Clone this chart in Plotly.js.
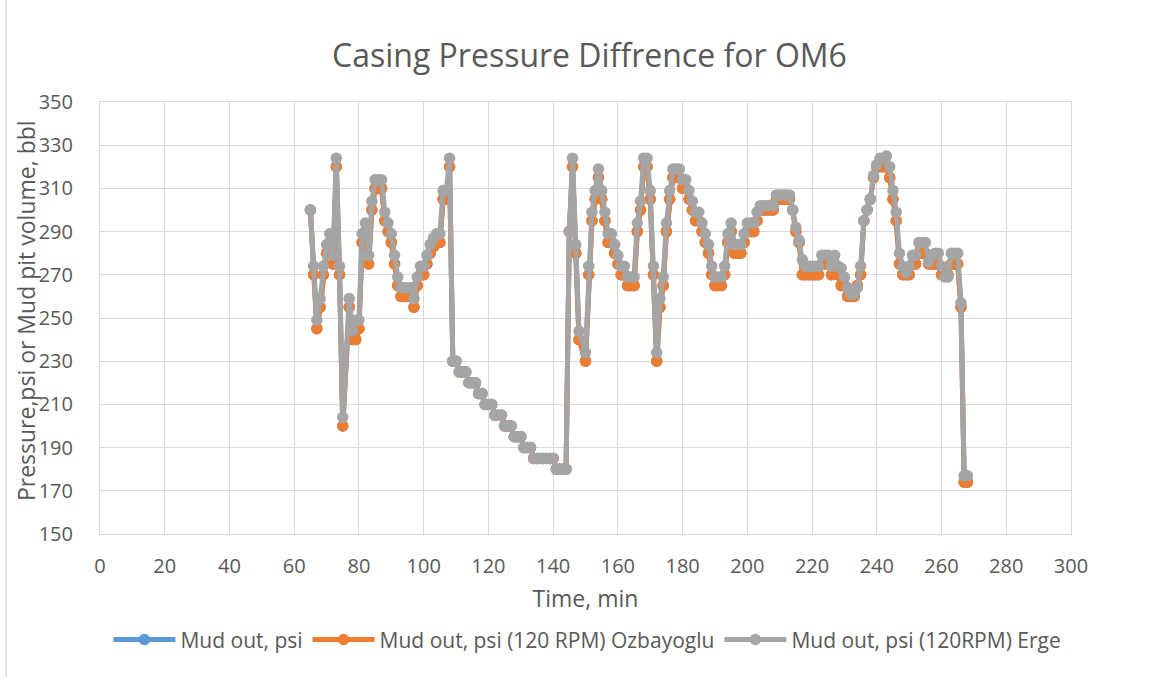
<!DOCTYPE html>
<html>
<head>
<meta charset="utf-8">
<script src="https://cdn.plot.ly/plotly-3.0.1.min.js"></script>
<style>html,body{margin:0;padding:0;background:#fff;}#chart{width:1149px;height:677px;}</style>
</head>
<body>
<div id="chart"></div>
<script>
// Time, min
const timeMin = [65,66,67,68,69,70,71,72,73,74,75,77,78,79,80,81,82,83,84,85,86,87,88,89,90,91,92,93,94,95,96,97,98,99,100,101,102,103,104,105,106,107,108,
109,110,111,112,113,114,115,116,117,118,119,120,121,122,123,124,125,126,127,128,129,130,131,132,133,134,135,136,137,138,139,140,141,142,143,144,
145,146,147,148,150,151,152,153,154,155,156,157,158,159,160,161,162,163,164,165,166,167,168,169,170,171,172,173,174,175,176,177,178,179,180,
181,182,183,184,185,186,187,188,189,190,191,192,193,194,195,196,197,198,199,200,201,202,203,204,205,206,207,208,209,210,211,212,213,214,215,216,
217,218,219,220,221,222,223,224,225,226,227,228,229,230,231,232,233,234,235,236,237,238,239,240,241,242,243,244,245,246,247,248,249,250,251,252,
253,254,255,256,257,258,259,260,261,262,263,264,265,266,267,268];

// Mud out, psi (120 RPM) Ozbayoglu
const ozbayoglu = [300,270,245,255,270,280,285,275,320,270,200,255,240,240,245,285,290,275,300,310,310,310,295,290,285,275,265,260,260,260,260,255,265,270,270,275,280,283,285,285,305,305,320,
230,230,225,225,225,220,220,220,215,215,210,210,210,205,205,205,200,200,200,195,195,195,190,190,190,185,185,185,185,185,185,185,180,180,180,180,
290,320,280,240,230,270,295,305,315,305,295,285,285,280,275,270,270,265,265,265,290,300,320,320,305,270,230,255,265,290,305,315,315,315,310,
310,305,300,295,295,290,285,280,270,265,265,265,270,285,290,280,280,280,285,290,290,290,295,300,300,300,300,300,305,305,305,305,305,300,290,285,
270,270,270,270,270,270,275,275,275,270,275,270,265,265,260,260,260,265,270,295,300,305,315,320,320,320,320,315,305,295,275,270,270,270,275,275,
280,280,280,275,275,275,275,270,270,270,275,275,275,255,174,174];

// Mud out, psi (assumed identical to Ozbayoglu; hidden beneath it)
const mudOut = ozbayoglu.slice();

// Mud out, psi (120RPM) Erge
const erge = [300,274,249,259,274,284,289,279,324,274,204,259,244,249,249,289,294,279,304,314,314,314,299,294,289,279,269,264,264,264,264,259,269,274,274,279,284,287,289,289,309,309,324,
230,230,225,225,225,220,220,220,215,215,210,210,210,205,205,205,200,200,200,195,195,195,190,190,190,185,185,185,185,185,185,185,180,180,180,180,
290,324,284,244,234,274,299,309,319,309,299,289,289,284,279,274,274,269,269,269,294,304,324,324,309,274,234,259,269,294,309,319,319,319,314,
314,309,304,299,299,294,289,284,274,269,269,269,274,289,294,284,284,284,289,294,294,294,299,302,302,302,302,302,307,307,307,307,307,300,292,286,
277,274,274,274,274,274,279,279,279,274,279,274,273,269,264,261,261,264,274,295,300,305,316,321,324,324,325,320,309,299,280,274,271,274,279,279,
285,285,285,276,279,280,280,274,269,269,280,280,280,257,177,177];

const yTitle = 'Pressure,psi or Mud pit volume, bbl';

const series = [
  {name: 'Mud out, psi', y: mudOut, color: '#5B9BD5'},
  {name: 'Mud out, psi (120 RPM) Ozbayoglu', y: ozbayoglu, color: '#ED7D31'},
  {name: 'Mud out, psi (120RPM) Erge', y: erge, color: '#A5A5A5'}
];

const traces = series.map(s => ({
  type: 'scatter', mode: 'lines+markers', name: s.name,
  x: timeMin, y: s.y,
  line: {color: s.color, width: 5},
  marker: {color: s.color, size: 11.5}
}));

const fontFam = 'Open Sans, Noto Sans, sans-serif';
const txt = '#595959';
const grid = '#D9D9D9';
const layout = {
  width: 1149, height: 677,
  margin: {l: 100, r: 78, t: 102, b: 143},
  paper_bgcolor: '#ffffff', plot_bgcolor: '#ffffff',
  font: {family: fontFam, color: txt, size: 20},
  title: {text: 'Casing Pressure Diffrence for OM6', x: 0.513, xanchor: 'center', y: 0.918, yanchor: 'middle',
          font: {family: fontFam, size: 32, color: txt}},
  xaxis: {range: [0, 300], tick0: 0, dtick: 20, showgrid: true, gridcolor: grid, gridwidth: 1,
          zeroline: false, showline: true, linecolor: grid, linewidth: 1, mirror: true,
          ticks: '', ticklabelstandoff: 14, tickfont: {size: 20, color: txt},
          title: {text: 'Time, min', font: {size: 23, color: txt}, standoff: 12}},
  yaxis: {range: [150, 350], tick0: 150, dtick: 20, showgrid: true, gridcolor: grid, gridwidth: 1,
          zeroline: false, showline: true, linecolor: grid, linewidth: 1, mirror: true,
          ticks: '', ticklabelstandoff: 22, tickfont: {size: 20, color: txt},
          title: {text: ''}},
  annotations: [{text: yTitle, xref: 'paper', yref: 'paper', x: -0.0762, y: 0.516,
                 xanchor: 'center', yanchor: 'middle', textangle: -90, showarrow: false,
                 font: {size: 23, color: txt}}],
  showlegend: true,
  legend: {orientation: 'h', x: 0.502, xanchor: 'center', y: -0.245, yanchor: 'middle',
           font: {size: 21, color: txt}, itemwidth: 62, tracegroupgap: 0},
  shapes: [{type: 'rect', xref: 'paper', yref: 'paper',
            x0: -0.0968, x1: 1.2, y0: -0.5, y1: 2.17,
            line: {color: grid, width: 1.5}}]
};

Plotly.newPlot('chart', traces, layout, {displayModeBar: false, staticPlot: true});
</script>
</body>
</html>
